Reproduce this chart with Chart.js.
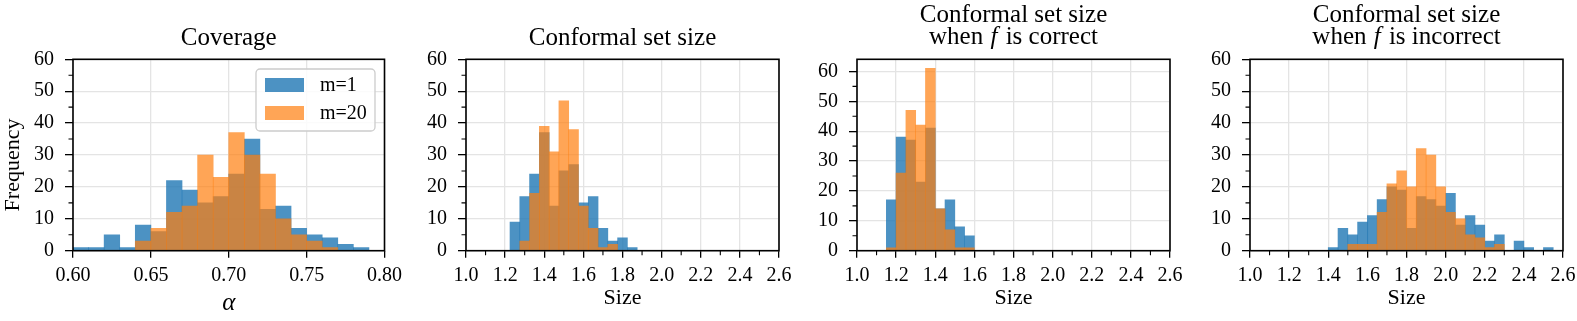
<!DOCTYPE html>
<html><head><meta charset="utf-8">
<script src="https://cdn.jsdelivr.net/npm/chart.js@4.4.1/dist/chart.umd.min.js"></script>
<style>
html,body{margin:0;padding:0;background:#fff;overflow:hidden;}
#wrap{position:relative;width:1577px;height:321px;overflow:hidden;background:#fff;}
canvas{position:absolute;top:0;}
</style></head><body>
<div id="wrap">
<canvas id="c0" width="408" height="321" style="left:0px"></canvas>
<canvas id="c1" width="408" height="321" style="left:393px"></canvas>
<canvas id="c2" width="408" height="321" style="left:784px"></canvas>
<canvas id="c3" width="408" height="321" style="left:1177px"></canvas>
</div>
<script>
// ---------------- data ----------------
const seriesLabels = ['m=1', 'm=20'];

const coverageBinStart = 0.60;
const coverageBinWidth = 0.01;
const coverageM1  = [1, 1, 5, 1, 8, 6, 22, 19, 15, 17, 24, 35, 13, 14, 7, 5, 4, 2, 1];
const coverageM20 = [0, 0, 0, 0, 3, 7, 12, 14, 30, 23, 37, 30, 24, 10, 5, 3, 1, 0, 0];

const sizeBinStart = 1.225;
const sizeBinWidth = 0.05;
const sizeM1  = [9, 17, 24, 37, 14, 25, 27, 15, 17, 7, 3, 4, 1];
const sizeM20 = [0, 3, 18, 39, 31, 47, 38, 14, 7, 1, 2, 0, 0];

const correctBinStart = 1.15;
const correctBinWidth = 0.05;
const correctM1  = [17, 38, 37, 23, 41, 14, 17, 8, 5];
const correctM20 = [1, 26, 47, 42, 61, 14, 7, 1, 1];

const incorrectBinStart = 1.40;
const incorrectBinWidth = 0.05;
const incorrectM1  = [1, 7, 5, 9, 11, 16, 20, 19, 7, 17, 16, 14, 18, 8, 11, 8, 3, 5, 0, 3, 1, 0, 1];
const incorrectM20 = [0, 0, 2, 2, 2, 12, 21, 25, 20, 32, 30, 20, 12, 10, 5, 4, 1, 2, 0, 0, 0, 0, 0];

const coverageTicks = [0.60, 0.65, 0.70, 0.75, 0.80];
const coverageTickLabels = ['0.60', '0.65', '0.70', '0.75', '0.80'];
const sizeTicks = [1.0, 1.2, 1.4, 1.6, 1.8, 2.0, 2.2, 2.4, 2.6];
const sizeTickLabels = ['1.0', '1.2', '1.4', '1.6', '1.8', '2.0', '2.2', '2.4', '2.6'];
const sizeMinorTicks = [1.1, 1.3, 1.5, 1.7, 1.9, 2.1, 2.3, 2.5];
const freqTicks = [0, 10, 20, 30, 40, 50, 60];
const freqTickLabels = ['0', '10', '20', '30', '40', '50', '60'];
const freqMinorTicks = [5, 15, 25, 35, 45, 55];

const panelTitles = [
  [[['Coverage', false]]],
  [[['Conformal set size', false]]],
  [[['Conformal set size', false]], [['when ', false], ['f', true], [' is correct', false]]],
  [[['Conformal set size', false]], [['when ', false], ['f', true], [' is incorrect', false]]]
];
const xAxisLabels = ['\u03B1', 'Size', 'Size', 'Size'];
const yAxisLabel = 'Frequency';

// ---------------- styling ----------------
const SERIF = "'Liberation Serif','Times New Roman',serif";
const BLUE = 'rgba(31,119,180,0.8)';
const ORANGE = 'rgba(255,127,14,0.7)';
const GRID = '#e4e4e4';

function binPoints(start, width, counts) {
  return counts.map((v, i) => ({ x: +(start + (i + 0.5) * width).toFixed(5), y: v }));
}

const decor = {
  id: 'decor',
  afterDatasetsDraw(chart, args, o) {
    const { ctx, chartArea: a } = chart;
    const xs = chart.scales.x, ys = chart.scales.y;
    ctx.save();
    // frame
    ctx.strokeStyle = '#000';
    ctx.lineWidth = 1.6;
    ctx.strokeRect(a.left, a.top, a.right - a.left, a.bottom - a.top);
    // minor ticks
    ctx.lineWidth = 1.1;
    ctx.beginPath();
    (o.xMinor || []).forEach(v => { const p = xs.getPixelForValue(v); ctx.moveTo(p, a.bottom); ctx.lineTo(p, a.bottom + 4.5); });
    (o.yMinor || []).forEach(v => { const p = ys.getPixelForValue(v); ctx.moveTo(a.left, p); ctx.lineTo(a.left - 4.5, p); });
    ctx.stroke();
    // title
    ctx.fillStyle = '#000';
    ctx.textBaseline = 'alphabetic';
    const lines = o.title || [];
    const bases = lines.length === 1 ? [45] : [21.5, 43.5];
    const cx = (a.left + a.right) / 2;
    lines.forEach((segs, li) => {
      let total = 0;
      const widths = segs.map(([t, it]) => { ctx.font = (it ? 'italic ' : '') + '25px ' + SERIF; const w = ctx.measureText(t).width + (it ? 3 : 0); total += w; return w; });
      let x = cx - total / 2;
      segs.forEach(([t, it], si) => {
        ctx.font = (it ? 'italic ' : '') + '25px ' + SERIF;
        ctx.textAlign = 'left';
        ctx.fillText(t, x + (it ? 1 : 0), bases[li]);
        x += widths[si];
      });
    });
    // y label
    if (o.ylabel) {
      ctx.save();
      ctx.translate(13, 165);
      ctx.rotate(-Math.PI / 2);
      ctx.font = '22px ' + SERIF;
      ctx.textAlign = 'center';
      ctx.textBaseline = 'middle';
      ctx.fillText(o.ylabel, 0, 0);
      ctx.restore();
    }
    // legend
    if (o.legend) {
      const bx = a.right - 128.5, by = a.top + 9.7, bw = 119, bh = 62;
      ctx.beginPath();
      ctx.roundRect(bx, by, bw, bh, 4);
      ctx.fillStyle = 'rgba(255,255,255,0.85)';
      ctx.fill();
      ctx.strokeStyle = '#cccccc';
      ctx.lineWidth = 1.3;
      ctx.stroke();
      chart.data.datasets.forEach((ds, i) => {
        const py = by + 9 + i * 28;
        ctx.fillStyle = ds.backgroundColor;
        ctx.fillRect(bx + 9, py, 39, 14);
        ctx.fillStyle = '#000';
        ctx.font = '20px ' + SERIF;
        ctx.textAlign = 'left';
        ctx.textBaseline = 'middle';
        ctx.fillText(ds.label, bx + 64, py + 7.5);
      });
    }
    ctx.restore();
  }
};

function makePanel(id, p) {
  const xTickValues = p.xTicks, xLabels = p.xTickLabels;
  return new Chart(document.getElementById(id), {
    type: 'bar',
    data: {
      datasets: [
        { label: seriesLabels[0], data: binPoints(p.start, p.width, p.m1), backgroundColor: BLUE, order: 2 },
        { label: seriesLabels[1], data: binPoints(p.start, p.width, p.m20), backgroundColor: ORANGE, order: 1 }
      ]
    },
    options: {
      responsive: false,
      animation: false,
      devicePixelRatio: 1,
      layout: { padding: { top: 59.3, right: 22, left: 0, bottom: 0 }, autoPadding: false },
      datasets: { bar: { barPercentage: 1, categoryPercentage: 1, grouped: false, borderWidth: 0 } },
      plugins: {
        legend: { display: false },
        title: { display: false },
        tooltip: { enabled: false },
        decor: { title: p.title, xMinor: p.xMinor, yMinor: freqMinorTicks, ylabel: p.ylabel, legend: p.legend }
      },
      scales: {
        x: {
          type: 'linear', min: p.xmin, max: p.xmax, offset: false,
          grid: { color: GRID, lineWidth: 1.3, tickColor: '#000', tickWidth: 1.3, tickLength: 7, offset: false },
          border: { display: false },
          afterBuildTicks: s => { s.ticks = xTickValues.map(v => ({ value: v })); },
          afterFit: s => { s.height = 70.3; },
          ticks: { color: '#000', font: { family: SERIF, size: 20 }, padding: 6, maxRotation: 0, autoSkip: false,
                   callback: (v, i) => xLabels[i] },
          title: { display: true, text: p.xlabel, color: '#000',
                   font: { family: SERIF, size: p.xlabelItalic ? 25 : 22, style: p.xlabelItalic ? 'italic' : 'normal' },
                   padding: { top: 0, bottom: p.xlabelItalic ? 3 : 10 } }
        },
        y: {
          type: 'linear', min: 0, max: p.ymax,
          grid: { color: GRID, lineWidth: 1.3, tickColor: '#000', tickWidth: 1.3, tickLength: 8 },
          border: { display: false },
          afterBuildTicks: s => { s.ticks = freqTicks.map(v => ({ value: v })); },
          afterFit: s => { s.width = 73; },
          ticks: { color: '#000', font: { family: SERIF, size: 20 }, padding: 11,
                   callback: (v, i) => freqTickLabels[i] }
        }
      }
    },
    plugins: [decor]
  });
}

makePanel('c0', { start: coverageBinStart, width: coverageBinWidth, m1: coverageM1, m20: coverageM20,
  xmin: 0.6, xmax: 0.8, ymax: 60, xTicks: coverageTicks, xTickLabels: coverageTickLabels, xMinor: [],
  title: panelTitles[0], xlabel: xAxisLabels[0], xlabelItalic: true, ylabel: yAxisLabel, legend: true });
makePanel('c1', { start: sizeBinStart, width: sizeBinWidth, m1: sizeM1, m20: sizeM20,
  xmin: 1.0, xmax: 2.6, ymax: 60, xTicks: sizeTicks, xTickLabels: sizeTickLabels, xMinor: sizeMinorTicks,
  title: panelTitles[1], xlabel: xAxisLabels[1] });
makePanel('c2', { start: correctBinStart, width: correctBinWidth, m1: correctM1, m20: correctM20,
  xmin: 1.0, xmax: 2.6, ymax: 64.05, xTicks: sizeTicks, xTickLabels: sizeTickLabels, xMinor: sizeMinorTicks,
  title: panelTitles[2], xlabel: xAxisLabels[2] });
makePanel('c3', { start: incorrectBinStart, width: incorrectBinWidth, m1: incorrectM1, m20: incorrectM20,
  xmin: 1.0, xmax: 2.6, ymax: 60, xTicks: sizeTicks, xTickLabels: sizeTickLabels, xMinor: sizeMinorTicks,
  title: panelTitles[3], xlabel: xAxisLabels[3] });
</script>
</body></html>
